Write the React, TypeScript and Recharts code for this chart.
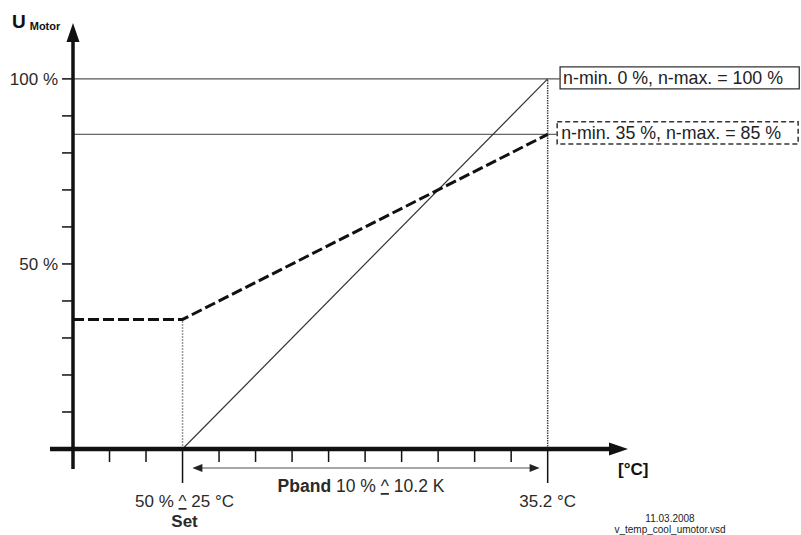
import React from 'react';
import {
  ComposedChart,
  Line,
  XAxis,
  YAxis,
  ReferenceLine,
  ReferenceArea,
} from 'recharts';

// x is in axis divisions, y in % of U motor
const solidX = [3, 13];
const solidY = [0, 100];
const dashedX = [0, 3, 13];
const dashedY = [35, 35, 85];
const xTicks = [1, 2, 3, 4, 5, 6, 7, 8, 9, 10, 11, 12, 13];
const yTicks = [10, 20, 30, 40, 50, 60, 70, 80, 90, 100];
const yTickLabels: Record<number, string> = { 50: '50 %', 100: '100 %' };
const setPoint = 3;
const endPoint = 13;
const setLabel = ['50 % ', '^', ' 25 °C'];
const endLabel = '35.2 °C';
const box1Label = 'n-min. 0 %, n-max. = 100 %';
const box2Label = 'n-min. 35 %, n-max. = 85 %';

const solidData = solidX.map((x, i) => ({ x, solid: solidY[i] }));
const dashedData = dashedX.map((x, i) => ({ x, dashed: dashedY[i] }));

const FONT = '"Liberation Sans", Arial, sans-serif';
const TEXT = '#2a2a2a';

function head(x: number, y: number, fx: number, fy: number, len: number, half: number) {
  const dx = x - fx;
  const dy = y - fy;
  const d = Math.sqrt(dx * dx + dy * dy) || 1;
  const ux = dx / d;
  const uy = dy / d;
  const bx = x - ux * len;
  const by = y - uy * len;
  return `${x},${y} ${bx - uy * half},${by + ux * half} ${bx + uy * half},${by - ux * half}`;
}

const AxisArrow = (props: any) => {
  const { x1, y1, x2, y2 } = props;
  const w = props.strokeWidth || 4;
  const dx = x2 - x1;
  const dy = y2 - y1;
  const d = Math.sqrt(dx * dx + dy * dy) || 1;
  return (
    <g>
      <line x1={x1} y1={y1} x2={x2 - (dx / d) * 14} y2={y2 - (dy / d) * 14} stroke="#111" strokeWidth={w} />
      <polygon points={head(x2, y2, x1, y1, 19, 6.5)} fill="#111" />
    </g>
  );
};

const DoubleArrow = (props: any) => {
  const { x1, y1, x2, y2 } = props;
  return (
    <g>
      <line x1={x1 + 4} y1={y1} x2={x2 - 4} y2={y2} stroke="#888" strokeWidth={1.5} />
      <polygon points={head(x1, y1, x2, y2, 10, 4)} fill="#222" />
      <polygon points={head(x2, y2, x1, y1, 10, 4)} fill="#222" />
      <text x={(x1 + x2) / 2 - 5} y={y1 + 24} textAnchor="middle" fontFamily={FONT} fontSize={17.5} fill={TEXT}>
        <tspan fontWeight="bold">Pband</tspan>
        <tspan> 10 % </tspan>
        <tspan textDecoration="underline">^</tspan>
        <tspan> 10.2 K</tspan>
      </text>
    </g>
  );
};

const XTick = (props: any) => {
  const { x, y, payload } = props;
  const v = payload.value;
  const long = v === setPoint || v === endPoint;
  return (
    <g>
      <line x1={x} x2={x} y1={y + 2} y2={y + (long ? 34 : 13)} stroke="#111" strokeWidth={1.5} />
      {v === setPoint && (
        <g fontFamily={FONT} fontSize={17} fill={TEXT} textAnchor="middle">
          <text x={x + 2} y={y + 58}>
            <tspan>{setLabel[0]}</tspan>
            <tspan textDecoration="underline">{setLabel[1]}</tspan>
            <tspan>{setLabel[2]}</tspan>
          </text>
          <text x={x + 2} y={y + 78} fontWeight="bold">Set</text>
        </g>
      )}
      {v === endPoint && (
        <text x={x} y={y + 58} fontFamily={FONT} fontSize={17} fill={TEXT} textAnchor="middle">
          {endLabel}
        </text>
      )}
    </g>
  );
};

export default function App() {
  return (
    <div style={{ position: 'absolute', left: 0, top: 0, width: 801, height: 535, background: '#fff' }}>
      <ComposedChart
        width={801}
        height={535}
        margin={{ top: 23, right: 173, bottom: 46, left: 8 }}
      >
        <XAxis
          type="number"
          dataKey="x"
          domain={[0, 15.2]}
          ticks={xTicks}
          allowDataOverflow
          axisLine={false}
          tickLine={false}
          tickSize={0}
          tickMargin={0}
          height={40}
          tick={<XTick />}
          interval={0}
        />
        <YAxis
          type="number"
          domain={[0, 115.1]}
          ticks={yTicks}
          allowDataOverflow
          axisLine={false}
          tickLine={{ stroke: '#111', strokeWidth: 1.5 }}
          tickSize={11}
          tickMargin={4}
          width={65}
          interval={0}
          tickFormatter={(v: number) => yTickLabels[v] || ''}
          tick={{ fontFamily: FONT, fontSize: 17, fill: TEXT }}
        />

        <ReferenceLine segment={[{ x: 0, y: 100 }, { x: 13.34, y: 100 }]} stroke="#555" strokeWidth={1.2} ifOverflow="visible" />
        <ReferenceLine segment={[{ x: 0, y: 85 }, { x: 13.26, y: 85 }]} stroke="#666" strokeWidth={1.2} ifOverflow="visible" />
        <ReferenceLine segment={[{ x: setPoint, y: 0 }, { x: setPoint, y: 35 }]} stroke="#999" strokeWidth={1.5} strokeDasharray="2 1" ifOverflow="visible" />
        <ReferenceLine segment={[{ x: endPoint, y: 0 }, { x: endPoint, y: 100 }]} stroke="#444" strokeWidth={1.5} strokeDasharray="1.5 1" ifOverflow="visible" />

        <ReferenceArea
          x1={13.34}
          x2={19.89}
          y1={97.3}
          y2={103.24}
          fill="#fff"
          fillOpacity={1}
          stroke="#333"
          strokeWidth={1.3}
          ifOverflow="visible"
          label={{ value: box1Label, position: 'insideLeft', offset: 3, fill: '#222', fontSize: 17.8, fontFamily: FONT }}
        />
        <ReferenceArea
          x1={13.26}
          x2={19.86}
          y1={82.4}
          y2={88.4}
          fill="#fff"
          fillOpacity={1}
          stroke="#333"
          strokeWidth={1.5}
          strokeDasharray="5 3"
          ifOverflow="visible"
          label={{ value: box2Label, position: 'insideLeft', offset: 4, fill: '#222', fontSize: 17.8, fontFamily: FONT }}
        />

        <Line
          data={solidData}
          dataKey="solid"
          type="linear"
          stroke="#333"
          strokeWidth={1.2}
          dot={false}
          isAnimationActive={false}
        />
        <Line
          data={dashedData}
          dataKey="dashed"
          type="linear"
          stroke="#111"
          strokeWidth={3}
          strokeDasharray="11 4"
          dot={false}
          isAnimationActive={false}
        />

        <ReferenceLine
          segment={[{ x: 3.27, y: -5.14 }, { x: 12.78, y: -5.14 }]}
          ifOverflow="visible"
          shape={<DoubleArrow />}
        />
        <ReferenceLine
          segment={[{ x: -0.63, y: 0 }, { x: 15.2, y: 0 }]}
          ifOverflow="visible"
          strokeWidth={4.5}
          shape={<AxisArrow />}
        />
        <ReferenceLine
          segment={[{ x: 0, y: -5.4 }, { x: 0, y: 115.1 }]}
          ifOverflow="visible"
          strokeWidth={3.5}
          shape={<AxisArrow />}
        />

        <text x={12} y={28} fontFamily={FONT} fontWeight="bold" fontSize={19} fill="#111">
          U
          <tspan dx={4} dy={2} fontSize={11}>Motor</tspan>
        </text>
        <text x={618} y={475} fontFamily={FONT} fontWeight="bold" fontSize={17} fill="#111">[°C]</text>
        <text x={670} y={522} fontFamily={FONT} fontSize={10} fill="#222" textAnchor="middle">11.03.2008</text>
        <text x={670} y={533} fontFamily={FONT} fontSize={10} fill="#222" textAnchor="middle">v_temp_cool_umotor.vsd</text>
      </ComposedChart>
    </div>
  );
}
